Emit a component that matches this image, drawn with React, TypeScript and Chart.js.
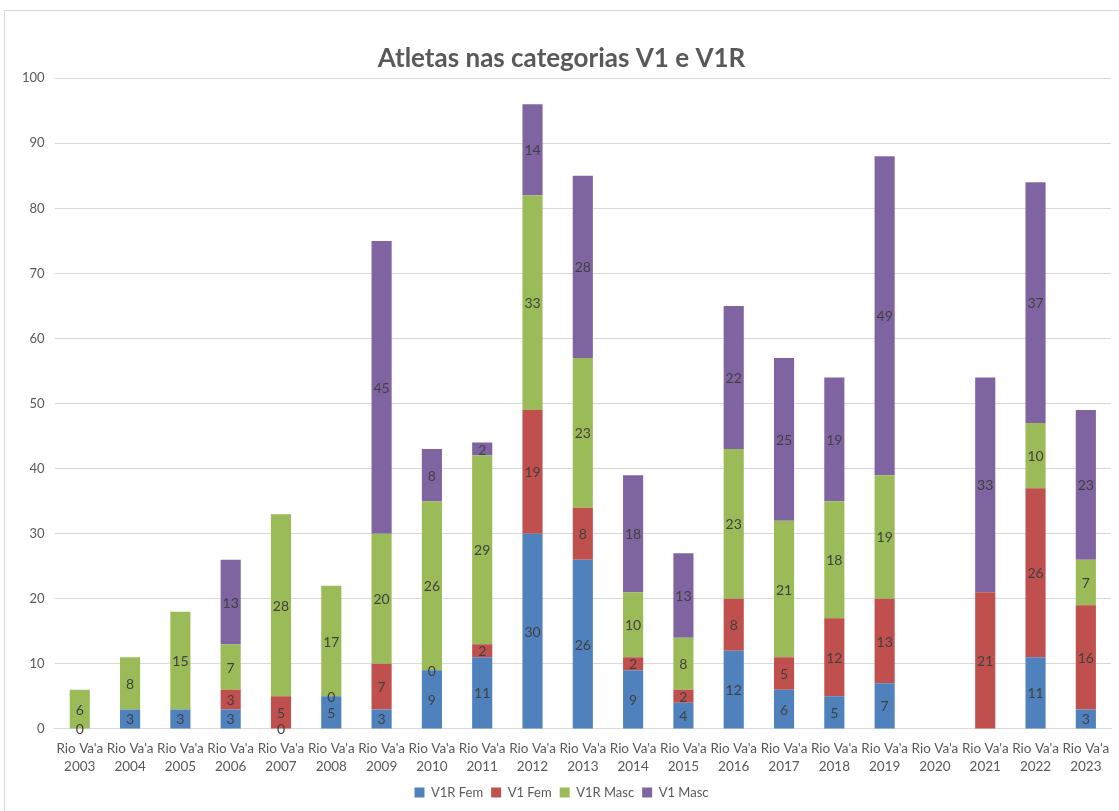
import React, { useEffect, useRef } from "react";
import { Chart, registerables } from "chart.js";

Chart.register(...registerables);

const years = ["2003","2004","2005","2006","2007","2008","2009","2010","2011","2012","2013","2014","2015","2016","2017","2018","2019","2020","2021","2022","2023"];
const categoryPrefix = "Rio Va'a";

const v1rFem: (number | null)[] = [0, 3, 3, 3, 0, 5, 3, 9, 11, 30, 26, 9, 4, 12, 6, 5, 7, null, null, 11, 3];
const v1Fem: (number | null)[] = [null, null, null, 3, 5, 0, 7, 0, 2, 19, 8, 2, 2, 8, 5, 12, 13, null, 21, 26, 16];
const v1rMasc: (number | null)[] = [6, 8, 15, 7, 28, 17, 20, 26, 29, 33, 23, 10, 8, 23, 21, 18, 19, null, null, 10, 7];
const v1Masc: (number | null)[] = [null, null, null, 13, null, null, 45, 8, 2, 14, 28, 18, 13, 22, 25, 19, 49, null, 33, 37, 23];

const seriesNames = ["V1R Fem", "V1 Fem", "V1R Masc", "V1 Masc"];
const seriesColors = ["#4f81bd", "#c0504d", "#9bbb59", "#8064a2"];

const FONT = "Lato, 'Open Sans', sans-serif";

const labelPlugin = {
  id: "segLabels",
  afterDatasetsDraw(chart: any) {
    const ctx = chart.ctx;
    ctx.save();
    ctx.font = `14px ${FONT}`;
    ctx.fillStyle = "#404040";
    ctx.textAlign = "center";
    ctx.textBaseline = "middle";
    chart.data.datasets.forEach((ds: any, i: number) => {
      const meta = chart.getDatasetMeta(i);
      meta.data.forEach((el: any, j: number) => {
        const v = ds.data[j];
        if (v === null || v === undefined) return;
        const props = el.getProps(["x", "y", "base"], true);
        ctx.fillText(String(v), props.x, (props.y + props.base) / 2 + 1);
      });
    });
    ctx.restore();
  },
};

export default function App() {
  const ref = useRef<HTMLCanvasElement>(null);
  useEffect(() => {
    document.body.style.margin = "0";
    const data = [v1rFem, v1Fem, v1rMasc, v1Masc];
    const datasets: any[] = data.map((d, i) => ({
      label: seriesNames[i],
      data: d,
      backgroundColor: seriesColors[i],
      borderWidth: 0,
      barPercentage: 0.8,
      categoryPercentage: 0.5,
      stack: "s",
    }));
    const chart = new Chart(ref.current!, {
      type: "bar",
      data: {
        labels: years.map((y) => [categoryPrefix, y]),
        datasets,
      },
      options: {
        animation: false,
        responsive: false,
        devicePixelRatio: 1,
        layout: { padding: { top: 43, left: 12, right: 8, bottom: 2 } },
        plugins: {
          title: {
            display: true,
            text: "Atletas nas categorias V1 e V1R",
            color: "#595959",
            font: { family: FONT, size: 26, weight: "bold" },
            padding: { top: 0, bottom: 4 },
          },
          legend: {
            position: "bottom",
            labels: {
              color: "#595959",
              font: { family: FONT, size: 13 },
              boxWidth: 10,
              boxHeight: 10,
              padding: 8,
            },
          },
          tooltip: { enabled: false },
        },
        scales: {
          x: {
            stacked: true,
            grid: { display: false },
            border: { display: true, color: "#d9d9d9" },
            ticks: { color: "#595959", font: { family: FONT, size: 13.5, lineHeight: 1.3 }, maxRotation: 0, autoSkip: false, padding: 3 },
          },
          y: {
            stacked: true,
            min: 0,
            max: 100,
            ticks: { stepSize: 10, color: "#595959", font: { family: FONT, size: 13 }, padding: 10 },
            grid: { color: "#d9d9d9", drawTicks: false },
            border: { display: false },
          },
        },
      },
      plugins: [labelPlugin],
    });
    return () => chart.destroy();
  }, []);
  return (
    <div style={{ position: "relative", width: 1119, height: 811, background: "#fff" }}>
      <div style={{ position: "absolute", left: 4, top: 10, width: 1130, height: 820, border: "1px solid #d9d9d9", boxSizing: "border-box" }} />
      <canvas ref={ref} width={1119} height={811} style={{ position: "absolute", left: 0, top: 0 }} />
    </div>
  );
}
